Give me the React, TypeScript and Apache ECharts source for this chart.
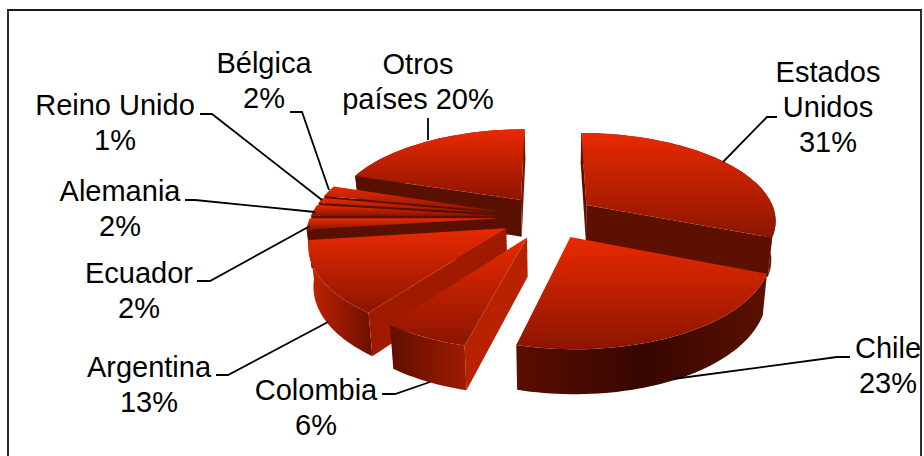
import React, { useEffect, useRef } from "react";
import * as echarts from "echarts";

// Export shares by destination, clockwise from twelve o'clock.
const countries = ["Estados Unidos", "Chile", "Colombia", "Argentina", "Ecuador", "Alemania", "Reino Unido", "Bélgica", "Otros países"];
const shares = [31, 23, 6, 13, 2, 2, 1, 2, 20];
const labelTexts = ["Estados\nUnidos\n31%", "Chile\n23%", "Colombia\n6%", "Argentina\n13%", "Ecuador\n2%", "Alemania\n2%", "Reino Unido\n1%", "Bélgica\n2%", "Otros\npaíses 20%"];

// Label anchors (centre x, centre y) and leader polylines.
const labelAnchors = [[828, 107], [888, 365], [316, 407], [149, 384], [139, 290], [120, 208], [115, 122], [264, 80], [418, 81]];
const leaders = [
  [[723, 162], [767, 117], [777, 117]],
  [[673, 379], [837, 357], [850, 357]],
  [[430, 382], [395, 394], [382, 394]],
  [[328, 322], [228, 375], [216, 375]],
  [[310, 226], [210, 281], [197, 281]],
  [[315, 212], [195, 200], [185, 200]],
  [[322, 200], [212, 114], [200, 114]],
  [[329, 190], [302, 112], [290, 112]],
  [[428, 140], [428, 118]],
];

// Pie projection: ground-plane unit coordinates mapped with a mild perspective.
const CX = 548, CY = 217, RX = 190, RY = 87, PERSP = 0.16, EXPLODE = 0.25, DEPTH = 38;
const VANISH_X = 560;

// Shading per slice: the two cut faces and the outer rim (left to right).
const startWall = ["#5e1000", "#3a0800", "#b82200", "#a01a00", "#5a1000", "#5a1000", "#5a1000", "#5a1000", "#5a1000"];
const endWall = ["#5e1000", "#5e1000", "#5e1000", "#5e1000", "#5a1000", "#5a1000", "#5a1000", "#5a1000", "#7a1400"];
const rimStops = [
  ["#5e1000", "#5e1000"],
  ["#5a0e00", "#360600", "#5c1000"],
  ["#600f00", "#a01a00"],
  ["#c42400", "#6a1000"],
  ["#c42400", "#a01a00"],
  ["#c42400", "#a01a00"],
  ["#c42400", "#a01a00"],
  ["#c42400", "#a01a00"],
  ["#8a1600", "#8a1600"],
];

const total = shares.reduce((a, b) => a + b, 0);
const TAU = Math.PI * 2;

function project(u: number, w: number) {
  const s = 1 / (1 - PERSP * w);
  return [CX + RX * u * s, CY + RY * w * s];
}

function lower(u: number, w: number) {
  const [x, y] = project(u, w);
  return [VANISH_X + (x - VANISH_X) * 0.98, y + DEPTH * (1 + 0.15 * w)];
}

function gradient(horizontal: boolean, colors: string[]) {
  return new echarts.graphic.LinearGradient(0, 0, horizontal ? 1 : 0, horizontal ? 0 : 1,
    colors.map((color, i) => ({ offset: i / (colors.length - 1), color })));
}

// A cut face shows only when the wedge lies on the far side of its top edge from the extrusion.
function faceVisible(apex: number[], edge: number[], other: number[]) {
  const ex = edge[0] - apex[0], ey = edge[1] - apex[1];
  const wedgeSide = ex * (other[1] - apex[1]) - ey * (other[0] - apex[0]);
  const downSide = ex;
  return wedgeSide * downSide < 0;
}

function renderSlice(params: any, api: any) {
  const idx = params.dataIndex;
  const before = shares.slice(0, idx).reduce((a, b) => a + b, 0);
  const a0 = (before / total) * TAU;
  const a1 = ((before + api.value(0)) / total) * TAU;
  const mid = (a0 + a1) / 2;
  const ou = EXPLODE * Math.sin(mid);
  const ow = -EXPLODE * Math.cos(mid);

  const steps = Math.max(4, Math.ceil((a1 - a0) / 0.03));
  const rimGround: number[][] = [];
  for (let i = 0; i <= steps; i++) {
    const t = a0 + ((a1 - a0) * i) / steps;
    rimGround.push([ou + Math.sin(t), ow - Math.cos(t)]);
  }
  const topArc = rimGround.map(([u, w]) => project(u, w));
  const lowArc = rimGround.map(([u, w]) => lower(u, w));
  const apexT = project(ou, ow);
  const apexB = lower(ou, ow);
  const z = 100 + Math.round(ow * 100);

  const wall = (i: number, fill: string) => ({
    type: "polygon", z2: z,
    shape: { points: [apexT, topArc[i], lowArc[i], apexB] },
    style: { fill },
  });

  const leader = leaders[idx];
  const anchor = labelAnchors[idx];
  const faces: any[] = [];
  if (faceVisible(apexT, topArc[0], topArc[steps])) faces.push(wall(0, startWall[idx]));
  if (faceVisible(apexT, topArc[steps], topArc[0])) faces.push(wall(steps, endWall[idx]));
  return {
    type: "group",
    children: [
      {
        type: "polygon", z2: z,
        shape: { points: [...topArc, ...lowArc.slice().reverse()] },
        style: { fill: gradient(true, rimStops[idx]) },
      },
      ...faces,
      {
        type: "polygon", z2: z,
        shape: { points: [apexT, ...topArc] },
        style: { fill: gradient(false, ["#e92a00", "#8c1500"]) },
      },
      {
        type: "polyline", z2: 400,
        shape: { points: leader },
        style: { stroke: "#000", lineWidth: 1.8, fill: "none" },
      },
      {
        type: "text", z2: 500, x: anchor[0], y: anchor[1],
        style: {
          text: labelTexts[idx], fill: "#000", align: "center", verticalAlign: "middle",
          font: '29px "Liberation Sans"', lineHeight: 35,
        },
      },
    ],
  };
}

export default function App() {
  const ref = useRef<HTMLDivElement>(null);
  useEffect(() => {
    const chart = echarts.init(ref.current!, undefined, { renderer: "svg" });
    chart.setOption({
      animation: false,
      backgroundColor: "#fff",
      graphic: [{
        type: "rect", z: -1, silent: true,
        shape: { x: 8, y: 10, width: 913, height: 460 },
        style: { fill: "#fff", stroke: "#1a1a1a", lineWidth: 1.8 },
      }],
      series: [{
        type: "custom",
        coordinateSystem: "none",
        clip: false,
        silent: true,
        data: countries.map((name, i) => ({ name, value: [shares[i]] })),
        renderItem: renderSlice,
      }],
    });
    return () => chart.dispose();
  }, []);
  return <div ref={ref} style={{ position: "absolute", left: 0, top: 0, width: 924, height: 456 }} />;
}
